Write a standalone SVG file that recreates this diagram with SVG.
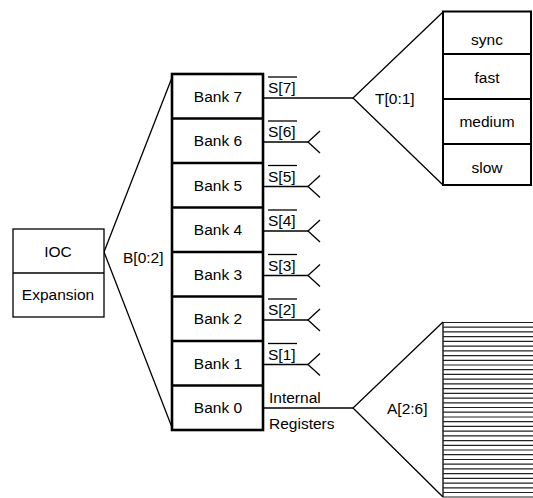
<svg xmlns="http://www.w3.org/2000/svg" width="533" height="498" viewBox="0 0 533 498">
<style>
text{font-family:"Liberation Sans",Arial,sans-serif;font-size:15.5px;fill:#000}
.c{text-anchor:middle}
.box{fill:#fff;stroke:#000;stroke-width:1.3}
.bank{fill:#fff;stroke:#000;stroke-width:2.6}
.tb{fill:#fff;stroke:#000;stroke-width:2}
.ln{fill:none;stroke:#000;stroke-width:1.3}
.hl{stroke:#222;stroke-width:1.2}
</style>
<g id="connectors">
<polyline class="ln" points="173,75 104,252 173,430"/>
<polyline class="ln" points="443,12 353,98 443,185"/>
<line class="ln" x1="263" y1="98" x2="353" y2="98"/>
<polyline class="ln" points="443,322 353,408 443,497"/>
<line class="ln" x1="263" y1="408" x2="353" y2="408"/>
<g id="s6"><line class="ln" x1="263" y1="142" x2="308" y2="142"/><polyline class="ln" points="320,131 308,142 320,153"/></g>
<g id="s5"><line class="ln" x1="263" y1="186.5" x2="308" y2="186.5"/><polyline class="ln" points="320,175.5 308,186.5 320,197.5"/></g>
<g id="s4"><line class="ln" x1="263" y1="231" x2="308" y2="231"/><polyline class="ln" points="320,220 308,231 320,242"/></g>
<g id="s3"><line class="ln" x1="263" y1="275.5" x2="308" y2="275.5"/><polyline class="ln" points="320,264.5 308,275.5 320,286.5"/></g>
<g id="s2"><line class="ln" x1="263" y1="320" x2="308" y2="320"/><polyline class="ln" points="320,309 308,320 320,331"/></g>
<g id="s1"><line class="ln" x1="263" y1="364.5" x2="308" y2="364.5"/><polyline class="ln" points="320,353.5 308,364.5 320,375.5"/></g>
</g>
<g id="ioc">
<rect class="box" x="13" y="229" width="91" height="88"/>
<line class="ln" x1="13" y1="273" x2="104" y2="273"/>
<text class="c" x="58" y="257">IOC</text>
<text class="c" x="58" y="300">Expansion</text>
</g>
<text id="b-label" x="123" y="263">B[0:2]</text>
<g id="banks">
<rect class="bank" x="172" y="74" width="91" height="356"/>
<line class="bank" x1="172" y1="118.5" x2="263" y2="118.5"/>
<line class="bank" x1="172" y1="163" x2="263" y2="163"/>
<line class="bank" x1="172" y1="207.5" x2="263" y2="207.5"/>
<line class="bank" x1="172" y1="252" x2="263" y2="252"/>
<line class="bank" x1="172" y1="296.5" x2="263" y2="296.5"/>
<line class="bank" x1="172" y1="341" x2="263" y2="341"/>
<line class="bank" x1="172" y1="385.5" x2="263" y2="385.5"/>
<text class="c" x="218" y="101.5">Bank 7</text>
<text class="c" x="218" y="146">Bank 6</text>
<text class="c" x="218" y="190.5">Bank 5</text>
<text class="c" x="218" y="235">Bank 4</text>
<text class="c" x="218" y="279.5">Bank 3</text>
<text class="c" x="218" y="324">Bank 2</text>
<text class="c" x="218" y="368.5">Bank 1</text>
<text class="c" x="218" y="413">Bank 0</text>
</g>
<g id="s-labels">
<text x="268" y="93">S[7]</text><line class="ln" x1="268" y1="77" x2="297" y2="77"/>
<text x="268" y="137">S[6]</text><line class="ln" x1="268" y1="121" x2="297" y2="121"/>
<text x="268" y="181.5">S[5]</text><line class="ln" x1="268" y1="165.5" x2="297" y2="165.5"/>
<text x="268" y="226">S[4]</text><line class="ln" x1="268" y1="210" x2="297" y2="210"/>
<text x="268" y="270.5">S[3]</text><line class="ln" x1="268" y1="254.5" x2="297" y2="254.5"/>
<text x="268" y="315">S[2]</text><line class="ln" x1="268" y1="299" x2="297" y2="299"/>
<text x="268" y="359.5">S[1]</text><line class="ln" x1="268" y1="343.5" x2="297" y2="343.5"/>
<text x="269" y="402.5">Internal</text>
<text x="269" y="429">Registers</text>
</g>
<text id="t-label" x="375" y="104">T[0:1]</text>
<g id="timing">
<rect class="tb" x="443" y="11.5" width="88" height="173.5"/>
<line class="tb" x1="443" y1="54" x2="531" y2="54"/>
<line class="tb" x1="443" y1="99" x2="531" y2="99"/>
<line class="tb" x1="443" y1="144" x2="531" y2="144"/>
<text class="c" x="487" y="45">sync</text>
<text class="c" x="487" y="83">fast</text>
<text class="c" x="487" y="127">medium</text>
<text class="c" x="487" y="173">slow</text>
</g>
<text id="a-label" x="387" y="414">A[2:6]</text>
<g id="registers">
<line class="ln" x1="443" y1="322" x2="443" y2="497"/>
<path class="hl" d="M443 322.5H533M443 327.2H533M443 331.9H533M443 336.7H533M443 341.4H533M443 346.1H533M443 350.8H533M443 355.6H533M443 360.3H533M443 365H533M443 369.7H533M443 374.4H533M443 379.2H533M443 383.9H533M443 388.6H533M443 393.3H533M443 398.1H533M443 402.8H533M443 407.5H533M443 412.2H533M443 417H533M443 421.7H533M443 426.4H533M443 431.1H533M443 435.8H533M443 440.6H533M443 445.3H533M443 450H533M443 454.7H533M443 459.5H533M443 464.2H533M443 468.9H533M443 473.6H533M443 478.4H533M443 483.1H533M443 487.8H533M443 492.5H533M443 497H533"/>
</g>
</svg>
